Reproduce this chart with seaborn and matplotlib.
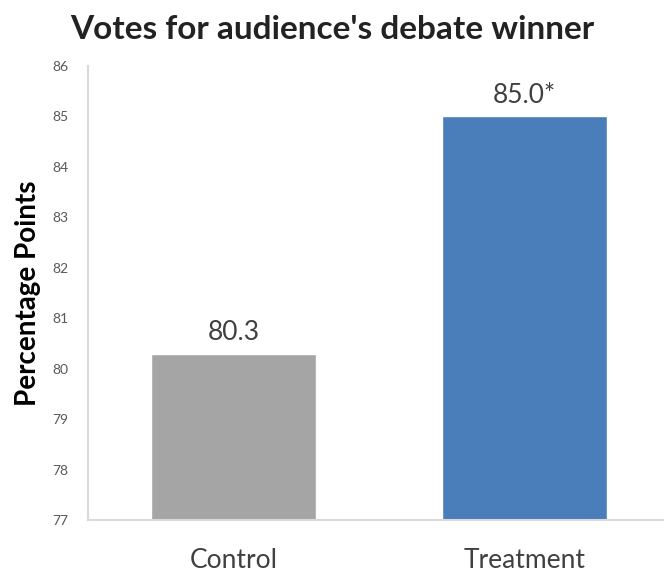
import matplotlib
matplotlib.use("Agg")
import matplotlib.pyplot as plt
import seaborn as sns
import pandas as pd

categories = ["Control", "Treatment"]
values = [80.3, 85.0]
bar_labels = ["80.3", "85.0*"]
colors = ["#A5A5A5", "#4A7EBB"]
yticks = [77, 78, 79, 80, 81, 82, 83, 84, 85, 86]

sns.set_style("white")
plt.rcParams["font.family"] = ["Lato", "DejaVu Sans"]

df = pd.DataFrame({"group": categories, "value": values})

fig = plt.figure(figsize=(6.64, 5.84), dpi=100)
ax = fig.add_axes([0.1325, 0.1096, 0.8675, 0.7774])
sns.barplot(data=df, x="group", y="value", hue="group", palette=colors,
            width=0.567, legend=False, ax=ax, saturation=1)
ax.set_ylim(77, 86)
ax.set_xlim(-0.5, 1.48)
ax.set_yticks(yticks)
ax.set_yticklabels([str(t) for t in yticks], fontsize=10, color="#595959")
ax.tick_params(axis="x", labelsize=19, colors="#404040", length=0, pad=20)
ax.tick_params(axis="y", length=0, pad=14)
ax.set_xlabel("")
ax.set_ylabel("Percentage Points", fontsize=20, fontweight="bold", color="#000000", labelpad=8)
for s in ["top", "right"]:
    ax.spines[s].set_visible(False)
for s in ["left", "bottom"]:
    ax.spines[s].set_color("#D9D9D9")
    ax.spines[s].set_linewidth(1.5)

for p, lab in zip(ax.patches, bar_labels):
    ax.annotate(lab, (p.get_x() + p.get_width() / 2, p.get_height()),
                xytext=(0, 6), textcoords="offset points", ha="center", va="bottom",
                fontsize=19, color="#404040")

fig.suptitle("Votes for audience's debate winner", x=0.5, y=0.975, fontsize=24,
             fontweight="bold", color="#222222")
fig.savefig("out.png", dpi=100)
